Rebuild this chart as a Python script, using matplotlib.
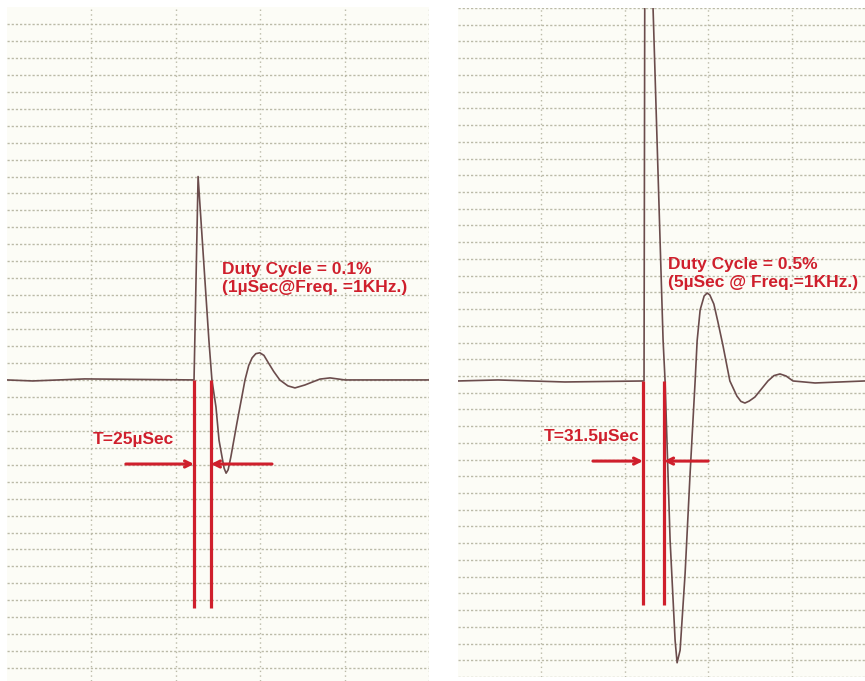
import matplotlib.pyplot as plt

# time in microseconds (125 us per major division), amplitude in grid rows
left_t = [0, 38, 115, 277, 283, 299, 303.5, 309.5, 314, 318.5, 321.5, 324.5, 327.5,
          331.5, 340.5, 352.5, 358, 363, 368.5, 374.5, 380.5, 386.5, 395, 404, 416,
          426.5, 441, 463.5, 478.5, 500.5, 625]
left_v = [0, -0.06, 0.06, 0, 12.0, 2.35, 0, -1.6, -3.55, -4.55, -5.2, -5.5, -5.3,
          -4.55, -2.55, 0, 0.85, 1.3, 1.55, 1.6, 1.45, 1.05, 0.5, 0, -0.35,
          -0.47, -0.3, 0.05, 0.12, 0, 0]

right_t = [0, 60, 160, 278.5, 280, 292, 307, 310, 317.5, 325, 328, 332.5, 340, 347.5,
           355, 358, 362.5, 368.5, 373, 377, 383, 389, 396.5, 407, 417.5, 423.5, 429.5,
           436, 444.5, 464, 473, 482, 491, 501.5, 534.5, 609]
right_v = [0, 0.06, -0.06, 0, 31.8, 22.3, 2.45, 0, -9.5, -15.5, -16.85, -16.1, -11.5, -5.5,
           0, 2.4, 4.25, 5.08, 5.26, 5.14, 4.6, 3.55, 2.15, 0, -0.9, -1.22, -1.32,
           -1.2, -0.96, 0, 0.32, 0.42, 0.3, 0, -0.12, 0]
right_base = -0.3

# pulse width markers (start, end) in microseconds
left_marks = [277, 302]
right_marks = [277, 308.5]

left_label = "T=25µSec"
right_label = "T=31.5µSec"
left_note = "Duty Cycle = 0.1%\n(1µSec@Freq. =1KHz.)"
right_note = "Duty Cycle = 0.5%\n(5µSec @ Freq.=1KHz.)"

RED = "#cf1f2c"
TRACE = "#6b4c4c"
GRID = "#bbbaa8"
BG = "#fcfcf6"


def setup(ax, xmax, ymin, ymax, hlines, vlines):
    ax.set_xlim(0, xmax)
    ax.set_ylim(ymin, ymax)
    ax.set_facecolor(BG)
    for s in ax.spines.values():
        s.set_visible(False)
    ax.set_xticks([])
    ax.set_yticks([])
    for y in hlines:
        ax.axhline(y, color=GRID, lw=1.0, ls=(0, (1.6, 1.4)), zorder=1)
    for x in vlines:
        ax.axvline(x, color=GRID, lw=1.0, ls=(0, (1.0, 2.4)), zorder=1)


def annotate(ax, marks, base, bottom, arrow_y, tails, label, label_xy, note, note_xy):
    ax.vlines(marks, bottom, base, color=RED, lw=2.3, zorder=3)
    for mark, tail in zip(marks, tails):
        ax.annotate("", xy=(mark, arrow_y), xytext=(tail, arrow_y),
                    arrowprops=dict(arrowstyle="->", color=RED, lw=2.2,
                                    shrinkA=0, shrinkB=0, mutation_scale=11), zorder=4)
    ax.text(*label_xy, label, color=RED, fontsize=12.5, fontweight="bold",
            family="Liberation Sans", ha="left", va="center", zorder=5)
    ax.text(*note_xy, note, color=RED, fontsize=12.5, fontweight="bold",
            family="Liberation Sans", ha="left", va="center", linespacing=1.25, zorder=5)


fig = plt.figure(figsize=(8.65, 6.81), dpi=100)

ax_l = fig.add_axes([7 / 865, 0, 422 / 865, 674 / 681])
setup(ax_l, 625, -17.76, 22, range(-17, 22), [125, 250, 375, 500, 625])
ax_l.plot(left_t, left_v, color=TRACE, lw=1.2, zorder=2)
annotate(ax_l, left_marks, 0, -13.45, -4.96, [176, 392.5],
         left_label, (127, -3.5), left_note, (318, 6.0))

ax_r = fig.add_axes([458 / 865, 4 / 681, 407 / 865, 669 / 681])
setup(ax_r, 609.3, -18, 22, range(-18, 23), [125, 250, 375, 500])
ax_r.plot(right_t, [v + right_base for v in right_v], color=TRACE, lw=1.2, zorder=2)
annotate(ax_r, right_marks, right_base, -13.7, -5.09, [202, 374.5],
         right_label, (128.5, -3.65), right_note, (314, 6.1))

fig.savefig("out.png", dpi=100)
